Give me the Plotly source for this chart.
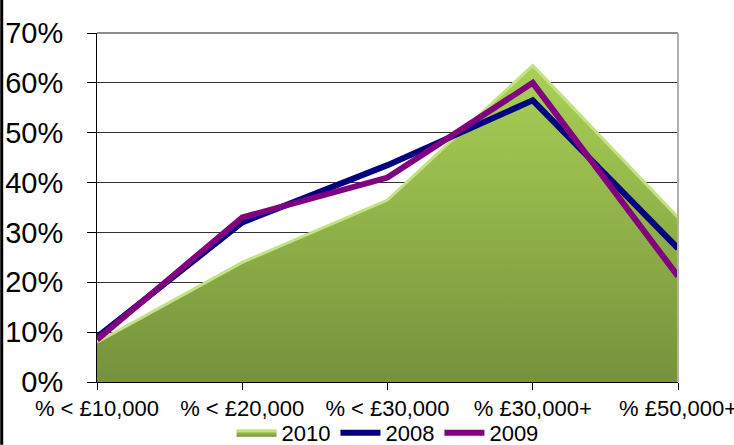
import plotly.graph_objects as go

# income bands and share of respondents per year
bands = ['% < £10,000', '% < £20,000', '% < £30,000', '% £30,000+', '% £50,000+']
share_2010 = [0.08, 0.24, 0.365, 0.635, 0.33]
share_2008 = [0.09, 0.32, 0.435, 0.565, 0.268]
share_2009 = [0.085, 0.33, 0.41, 0.60, 0.212]
y_ticks = [0, 0.1, 0.2, 0.3, 0.4, 0.5, 0.6, 0.7]

FONT = 'Liberation Sans, Arial, sans-serif'

fig = go.Figure()

# 2010 as a filled area with a vertical green gradient
fig.add_trace(go.Scatter(
    x=bands, y=share_2010, name='2010', mode='lines',
    fill='tozeroy',
    fillgradient=dict(type='vertical',
                      colorscale=[[0, '#76923c'], [1, '#a9d155']]),
    line=dict(color='#c4e283', width=3),
))
fig.add_trace(go.Scatter(
    x=bands, y=share_2008, name='2008', mode='lines',
    line=dict(color='#000080', width=6),
))
fig.add_trace(go.Scatter(
    x=bands, y=share_2009, name='2009', mode='lines',
    line=dict(color='#800080', width=6),
))

fig.update_layout(
    width=734, height=445,
    margin=dict(l=97, r=56, t=33, b=63, autoexpand=False),
    paper_bgcolor='white', plot_bgcolor='white',
    font=dict(family=FONT, color='black'),
    showlegend=True,
    legend=dict(orientation='h', x=0.5, xanchor='center',
                yref='container', y=0.027, yanchor='middle',
                bgcolor='rgba(0,0,0,0)',
                font=dict(size=22), itemwidth=40, tracegroupgap=0),
    shapes=[
        # top and right plot border (grey)
        dict(type='line', xref='paper', yref='paper', x0=0, x1=1, y0=1, y1=1,
             line=dict(color='#8c8c8c', width=2)),
        dict(type='line', xref='paper', yref='paper', x0=1, x1=1, y0=0, y1=1,
             line=dict(color='#b0b0b0', width=2)),
        # thin dark frame edge on the far left
        dict(type='line', xref='paper', yref='paper', x0=-0.164, x1=-0.164,
             y0=-0.18, y1=1.1, line=dict(color='black', width=3)),
    ],
)

fig.update_xaxes(
    type='category', range=[0, len(bands) - 1], automargin=False,
    showline=True, linecolor='black', linewidth=1,
    ticks='outside', ticklen=7, tickcolor='black',
    showgrid=False, tickfont=dict(size=22),
)
fig.update_yaxes(
    range=[0, 0.7], tickvals=y_ticks, tickformat='.0%', automargin=False,
    showline=True, linecolor='black', linewidth=1,
    ticks='outside', ticklen=9, tickcolor='black', ticklabelstandoff=18,
    showgrid=True, gridcolor='#333333', gridwidth=1,
    zeroline=False, tickfont=dict(size=29),
)

fig.write_html('out.html', config={'displayModeBar': False},
               post_script="document.body.style.margin='0';")
